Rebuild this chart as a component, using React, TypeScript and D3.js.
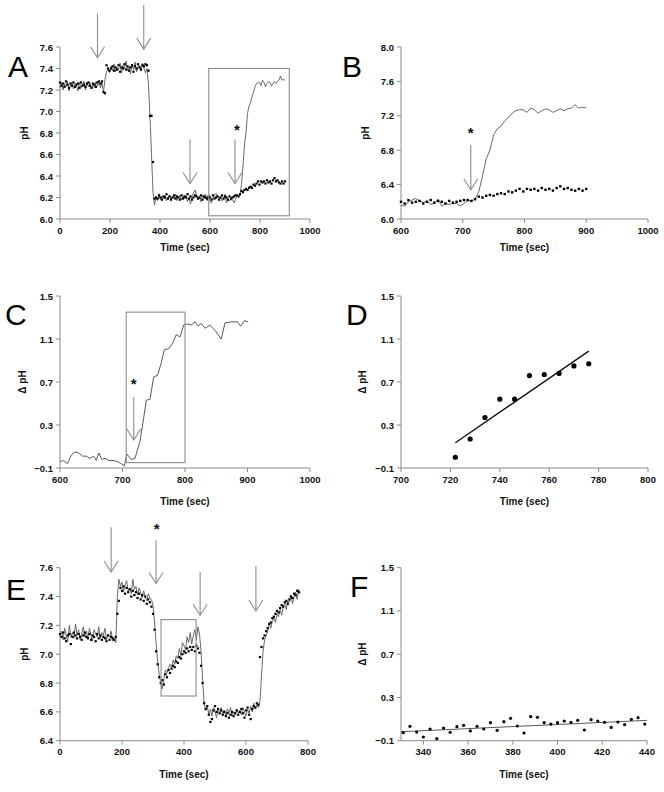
import React from 'react';
import * as d3 from 'd3';

// ---------- DATA ----------
// Panel A / B : pH traces sampled every 6 s from t = 0
const A_START = 0;
const A_STEP = 6;
const aLine = [
  7.22,7.27,7.20,7.26,7.23,7.28,7.19,7.25,7.27,7.21,7.26,7.24,7.19,7.27,7.22,7.25,7.28,7.20,7.26,7.23,7.27,7.21,7.25,7.22,7.28,7.24,7.26,7.22,7.27,
  7.18,7.30,7.37,7.39,7.36,
  7.42,7.38,7.44,7.37,7.41,7.39,7.45,7.36,7.43,7.40,7.47,7.38,7.42,7.35,7.44,7.39,7.46,7.37,7.41,7.43,7.38,7.45,7.40,7.36,
  7.40,7.25,6.95,6.60,6.25,6.13,6.21,
  6.17,6.23,6.18,6.21,6.19,6.22,6.17,6.20,6.22,6.18,6.21,6.19,6.23,6.17,6.20,6.22,6.18,6.21,6.19,6.22,6.16,6.20,6.14,6.21,6.24,6.27,6.22,6.18,6.21,6.16,6.22,6.19,6.23,6.17,6.21,
  6.16,6.15,6.20,6.22,6.24,6.21,6.19,6.21,6.17,6.18,6.23,6.15,6.18,6.17,6.18,6.18,6.15,
  6.18,6.22,6.21,6.23,6.32,6.50,6.70,6.80,6.98,7.05,7.08,7.14,7.18,7.23,7.26,7.27,7.27,7.24,7.29,7.27,7.23,7.26,7.28,7.27,7.24,7.26,7.28,7.26,7.28,7.29,7.33,7.29,7.30,7.29,
];
const aDots = [
  7.27,7.24,7.26,7.23,7.28,7.25,7.22,7.26,7.24,7.27,7.23,7.25,7.26,7.22,7.27,7.24,7.25,7.23,7.26,7.27,7.24,7.22,7.26,7.25,7.23,7.27,7.28,7.26,7.28,
  7.18,7.17,7.43,7.40,7.38,
  7.40,7.42,7.38,7.41,7.39,7.43,7.37,7.41,7.40,7.44,7.39,7.42,7.38,7.41,7.43,7.37,7.42,7.40,7.44,7.41,7.39,7.43,7.42,7.44,
  7.43,7.38,6.96,6.96,6.53,6.19,6.20,
  6.19,6.22,6.20,6.18,6.21,6.20,6.23,6.19,6.21,6.18,6.20,6.22,6.19,6.21,6.20,6.18,6.22,6.19,6.21,6.20,6.23,6.19,6.21,6.18,6.20,6.22,6.21,6.19,6.20,6.22,6.18,6.21,6.20,6.19,6.21,
  6.20,6.18,6.22,6.19,6.20,6.21,6.18,6.20,6.22,6.19,6.21,6.20,6.18,6.21,6.19,6.20,6.21,
  6.22,6.22,6.21,6.23,6.26,6.25,6.27,6.28,6.27,6.29,6.30,6.29,6.32,6.31,6.33,6.35,6.32,6.35,6.34,6.35,6.33,6.36,6.34,6.35,6.33,6.36,6.38,6.35,6.36,6.34,6.33,6.35,6.33,6.35,
];

// Panel C : delta pH
const cTime = [600,606,612,618,624,630,636,642,648,654,658,662,667,672,678,685,692,698,703,707,714,720,728,734,738,744,750,756,762,767,774,780,786,792,798,804,810,816,821,826,832,840,848,858,864,874,884,889,895,901];
const cDelta = [-0.04,-0.03,-0.06,0.02,0.05,0.04,0.01,0.01,-0.01,0.01,-0.03,0.04,-0.02,-0.01,-0.03,-0.03,-0.04,-0.06,-0.08,0.03,-0.02,-0.01,0.15,0.37,0.53,0.54,0.75,0.76,0.88,1.00,1.01,1.06,1.14,1.12,1.23,1.24,1.23,1.26,1.22,1.245,1.20,1.23,1.18,1.10,1.25,1.26,1.26,1.22,1.27,1.26];

// Panel D : initial rate points and fit
const dTime = [722,728,734,740,746,752,758,764,770,776];
const dDelta = [0.00,0.17,0.37,0.54,0.54,0.76,0.77,0.78,0.85,0.87];
const dFitTime = [722,776];
const dFitDelta = [0.135,0.987];

// Panel E : pH traces sampled every 5 s
const E_START = 0;
const E_STEP = 5;
const eLine = [
  7.12,7.16,7.10,7.18,7.13,7.09,7.20,7.12,7.15,7.11,7.21,7.13,7.17,7.10,7.14,7.19,7.12,7.16,7.11,7.18,7.13,7.09,7.17,7.14,7.12,7.19,7.11,7.15,7.13,7.18,7.10,7.14,7.12,7.16,7.09,7.11,
  7.08,7.40,7.52,7.47,7.50,7.43,7.48,7.51,7.44,7.46,7.42,7.52,7.45,7.47,7.41,7.46,7.43,7.39,7.44,7.40,7.37,7.42,7.39,7.38,
  7.34,7.22,7.08,6.95,6.86,6.80,6.76,6.83,6.89,6.87,6.90,6.93,6.91,6.96,6.93,6.99,6.97,7.04,6.99,7.08,7.06,7.03,7.12,7.08,7.15,7.07,7.13,7.17,7.10,7.19,7.14,
  7.02,6.82,6.66,6.61,6.64,6.58,6.62,6.57,6.63,6.60,6.56,6.62,6.59,6.63,6.58,6.61,6.57,6.62,6.59,6.63,6.57,6.60,6.58,6.62,6.59,6.61,6.58,6.63,6.60,6.57,6.62,6.59,6.64,6.60,6.66,6.62,6.65,6.63,6.67,
  6.85,7.02,7.10,7.13,7.16,7.21,7.18,7.23,7.25,7.22,7.28,7.26,7.31,7.27,7.33,7.35,7.31,7.37,7.36,7.41,7.35,7.40,7.43,7.38,7.45,7.42,
];
const eDots = [
  7.14,7.12,7.15,7.11,7.09,7.13,7.14,7.07,7.12,7.15,7.13,7.11,7.14,7.12,7.10,7.13,7.15,7.12,7.11,7.14,7.10,7.13,7.12,7.09,7.14,7.11,7.13,7.10,7.12,7.11,7.09,7.13,7.10,7.12,7.11,7.10,
  7.12,7.28,7.37,7.46,7.44,7.47,7.42,7.46,7.43,7.45,7.40,7.44,7.41,7.43,7.39,7.42,7.38,7.41,7.37,7.40,7.35,7.38,7.36,7.33,
  7.28,7.17,7.02,6.93,6.84,6.80,6.82,6.79,6.86,6.84,6.89,6.87,6.90,6.92,6.91,6.95,6.94,6.98,6.97,7.00,7.02,7.01,7.04,7.02,7.05,7.03,7.05,7.02,7.06,7.04,
  7.01,6.92,6.80,6.66,6.62,6.64,6.58,6.53,6.55,6.61,6.64,6.60,6.62,6.59,6.61,6.58,6.60,6.57,6.59,6.56,6.58,6.60,6.57,6.59,6.61,6.58,6.60,6.62,6.59,6.56,6.61,6.63,6.58,6.55,6.62,6.64,6.63,6.66,6.65,
  6.98,7.05,7.11,7.13,7.16,7.18,7.21,7.22,7.25,7.26,7.28,7.30,7.29,7.32,7.34,7.33,7.36,7.37,7.35,7.38,7.40,7.39,7.42,7.41,7.44,7.43,
];

// Panel F : delta pH points every 3 s and fit
const F_START = 331;
const F_STEP = 3;
const fDelta = [-0.026,0.033,-0.020,-0.066,0.008,-0.081,0.017,-0.023,0.030,0.042,-0.010,0.033,0.008,0.067,-0.004,0.076,0.107,0.036,-0.029,0.122,0.116,0.067,0.054,0.067,0.082,0.070,0.088,-0.001,0.094,0.082,0.070,0.023,0.073,0.048,0.097,0.113,0.054];
const fFitTime = [330,440];
const fFitDelta = [-0.017,0.088];

// Axis ticks
const ticksA_x = [0,200,400,600,800,1000];
const ticksA_y = [6.0,6.2,6.4,6.6,6.8,7.0,7.2,7.4,7.6];
const ticksB_x = [600,700,800,900,1000];
const ticksB_y = [6.0,6.4,6.8,7.2,7.6,8.0];
const ticksC_x = [600,700,800,900,1000];
const ticksDelta_y = [-0.1,0.3,0.7,1.1,1.5];
const ticksD_x = [700,720,740,760,780,800];
const ticksE_x = [0,200,400,600,800];
const ticksE_y = [6.4,6.6,6.8,7.0,7.2,7.4,7.6];
const ticksF_x = [340,360,380,400,420,440];

// Annotations (data units): arrows [time, tipValue, tailValue]
const arrowsA = [[150,7.50,7.91],[335,7.58,7.99],[520,6.33,6.74],[700,6.33,6.74]];
const boxA = [595,917,6.03,7.40];
const starA = [708,6.85];
const arrowsB = [[713,6.34,6.86]];
const starB = [713,7.02];
const arrowsC = [[718,0.16,0.56]];
const boxC = [706,800,-0.05,1.35];
const starC = [718,0.70];
const arrowsE = [[165,7.57,7.88],[310,7.49,7.79],[452,7.27,7.57],[632,7.30,7.61]];
const boxE = [326,439,6.71,7.24];
const starE = [312,7.88];

// ---------- RENDERING ----------
const FONT = '"Liberation Sans", Arial, Helvetica, sans-serif';
const AXIS = '#8a8a8a';
const TRACE = '#5a5a5a';
const ANNOT = '#8c8c8c';

type Geo = { x0: number; x1: number; yb: number; yt: number; xd: [number, number]; yd: [number, number] };

function Axes({ g, xs, ys, xt, yt, yfmt, xlabel, ylabel, letter, lx, ly, ylx, tly }: any) {
  return (
    <g fontFamily={FONT}>
      <line x1={g.x0} x2={g.x0} y1={g.yb} y2={g.yt} stroke={AXIS} strokeWidth={1} />
      <line x1={g.x0} x2={g.x1} y1={g.yb} y2={g.yb} stroke={AXIS} strokeWidth={1} />
      {xt.map((t: number) => (
        <g key={'x' + t}>
          <line x1={xs(t)} x2={xs(t)} y1={g.yb} y2={g.yb + 4} stroke={AXIS} />
          <text x={xs(t)} y={g.yb + 14.5} fontSize={9.5} fontWeight="bold" textAnchor="middle" fill="#111">{t}</text>
        </g>
      ))}
      {yt.map((t: number) => (
        <g key={'y' + t}>
          <line x1={g.x0 - 4} x2={g.x0} y1={ys(t)} y2={ys(t)} stroke={AXIS} />
          <text x={g.x0 - 7} y={ys(t) + 3.5} fontSize={9.5} fontWeight="bold" textAnchor="end" fill="#111">{yfmt(t)}</text>
        </g>
      ))}
      <text x={(g.x0 + g.x1) / 2} y={tly} fontSize={10} fontWeight="bold" textAnchor="middle" fill="#111">{xlabel}</text>
      <text transform={`translate(${ylx},${(g.yb + g.yt) / 2}) rotate(-90)`} fontSize={10} fontWeight="bold" textAnchor="middle" fill="#111">{ylabel}</text>
      <text x={lx} y={ly} fontSize={30} fill="#000">{letter}</text>
    </g>
  );
}

function Arrow({ x, yTip, yTail }: { x: number; yTip: number; yTail: number }) {
  return (
    <g stroke={ANNOT} strokeWidth={1.1} fill="none">
      <line x1={x} x2={x} y1={yTail} y2={yTip} />
      <path d={`M${x - 7},${yTip - 11} L${x},${yTip} L${x + 7},${yTip - 11}`} />
    </g>
  );
}

function Star({ x, y }: { x: number; y: number }) {
  return <text x={x} y={y + 7} fontFamily={FONT} fontSize={15} fontWeight="bold" textAnchor="middle" fill="#111">*</text>;
}

function Box({ xs, ys, b }: any) {
  return <rect x={xs(b[0])} y={ys(b[3])} width={xs(b[1]) - xs(b[0])} height={ys(b[2]) - ys(b[3])} fill="none" stroke={ANNOT} strokeWidth={1.1} />;
}

function mk(g: Geo) {
  return {
    xs: d3.scaleLinear().domain(g.xd).range([g.x0, g.x1]),
    ys: d3.scaleLinear().domain(g.yd).range([g.yb, g.yt]),
  };
}

export default function App() {
  const f1 = d3.format('.1f');

  const gA: Geo = { x0: 60, x1: 310, yb: 219, yt: 47, xd: [0, 1000], yd: [6.0, 7.6] };
  const gB: Geo = { x0: 401, x1: 648, yb: 219, yt: 47, xd: [600, 1000], yd: [6.0, 8.0] };
  const gC: Geo = { x0: 60, x1: 310, yb: 468, yt: 296, xd: [600, 1000], yd: [-0.1, 1.5] };
  const gD: Geo = { x0: 401, x1: 648, yb: 468, yt: 296, xd: [700, 800], yd: [-0.1, 1.5] };
  const gE: Geo = { x0: 60, x1: 308, yb: 740.7, yt: 567.7, xd: [0, 800], yd: [6.4, 7.6] };
  const gF: Geo = { x0: 401, x1: 647, yb: 740.7, yt: 567.7, xd: [330, 440], yd: [-0.1, 1.5] };

  const A = mk(gA), B = mk(gB), C = mk(gC), D = mk(gD), E = mk(gE), F = mk(gF);

  const aT = aLine.map((_, i) => A_START + i * A_STEP);
  const eT = eLine.map((_, i) => E_START + i * E_STEP);
  const fT = fDelta.map((_, i) => F_START + i * F_STEP);

  const lineGen = (sc: any, ts: number[], vs: number[]) =>
    d3.line<number>().x((_, i) => sc.xs(ts[i])).y((v) => sc.ys(v))(vs) || '';

  const bIdx = aT.map((t, i) => i).filter((i) => aT[i] >= 600);
  const bT = bIdx.map((i) => aT[i]);
  const bLine = bIdx.map((i) => aLine[i]);
  const bDots = bIdx.map((i) => aDots[i]);

  const sq = (sc: any, ts: number[], vs: number[], s: number, key: string) =>
    vs.map((v, i) => (
      <rect key={key + i} x={sc.xs(ts[i]) - s / 2} y={sc.ys(v) - s / 2} width={s} height={s} fill="#000" />
    ));

  const arrows = (sc: any, arr: number[][], key: string) =>
    arr.map((a, i) => <Arrow key={key + i} x={sc.xs(a[0])} yTip={sc.ys(a[1])} yTail={sc.ys(a[2])} />);

  return (
    <svg width={664} height={792} style={{ position: 'absolute', left: 0, top: 0, background: '#fff' }}>
      <rect width={664} height={792} fill="#fff" />
      {/* Panel A */}
      <Axes g={gA} {...A} xt={ticksA_x} yt={ticksA_y} yfmt={f1} xlabel="Time (sec)" ylabel="pH" letter="A" lx={8} ly={77} ylx={28} tly={251} />
      <path d={lineGen(A, aT, aLine)} fill="none" stroke={TRACE} strokeWidth={0.9} />
      {sq(A, aT, aDots, 2.2, 'ad')}
      <Box {...A} b={boxA} />
      {arrows(A, arrowsA, 'aa')}
      <Star x={A.xs(starA[0])} y={A.ys(starA[1])} />

      {/* Panel B */}
      <Axes g={gB} {...B} xt={ticksB_x} yt={ticksB_y} yfmt={f1} xlabel="Time (sec)" ylabel="pH" letter="B" lx={342} ly={77} ylx={369} tly={251} />
      <path d={lineGen(B, bT, bLine)} fill="none" stroke={TRACE} strokeWidth={0.9} />
      {sq(B, bT, bDots, 2.4, 'bd')}
      {arrows(B, arrowsB, 'ba')}
      <Star x={B.xs(starB[0])} y={B.ys(starB[1])} />

      {/* Panel C */}
      <Axes g={gC} {...C} xt={ticksC_x} yt={ticksDelta_y} yfmt={f1} xlabel="Time (sec)" ylabel="Δ pH" letter="C" lx={5} ly={325} ylx={26} tly={505} />
      <path d={lineGen(C, cTime, cDelta)} fill="none" stroke={TRACE} strokeWidth={1} />
      <Box {...C} b={boxC} />
      {arrows(C, arrowsC, 'ca')}
      <Star x={C.xs(starC[0])} y={C.ys(starC[1])} />

      {/* Panel D */}
      <Axes g={gD} {...D} xt={ticksD_x} yt={ticksDelta_y} yfmt={f1} xlabel="Time (sec)" ylabel="Δ pH" letter="D" lx={346} ly={325} ylx={366} tly={505} />
      <path d={lineGen(D, dFitTime, dFitDelta)} fill="none" stroke="#111" strokeWidth={1.4} />
      {dDelta.map((v, i) => (
        <circle key={'dd' + i} cx={D.xs(dTime[i])} cy={D.ys(v)} r={2.6} fill="#000" />
      ))}

      {/* Panel E */}
      <Axes g={gE} {...E} xt={ticksE_x} yt={ticksE_y} yfmt={f1} xlabel="Time (sec)" ylabel="pH" letter="E" lx={6} ly={600} ylx={28} tly={778} />
      <path d={lineGen(E, eT, eLine)} fill="none" stroke={TRACE} strokeWidth={0.9} />
      {sq(E, eT, eDots, 2.2, 'ed')}
      <Box {...E} b={boxE} />
      {arrows(E, arrowsE, 'ea')}
      <Star x={E.xs(starE[0])} y={E.ys(starE[1])} />

      {/* Panel F */}
      <Axes g={gF} {...F} xt={ticksF_x} yt={ticksDelta_y} yfmt={f1} xlabel="Time (sec)" ylabel="Δ pH" letter="F" lx={350} ly={597} ylx={366} tly={778} />
      <path d={lineGen(F, fFitTime, fFitDelta)} fill="none" stroke={TRACE} strokeWidth={1} />
      {fDelta.map((v, i) => (
        <circle key={'fd' + i} cx={F.xs(fT[i])} cy={F.ys(v)} r={1.6} fill="#000" />
      ))}
    </svg>
  );
}
